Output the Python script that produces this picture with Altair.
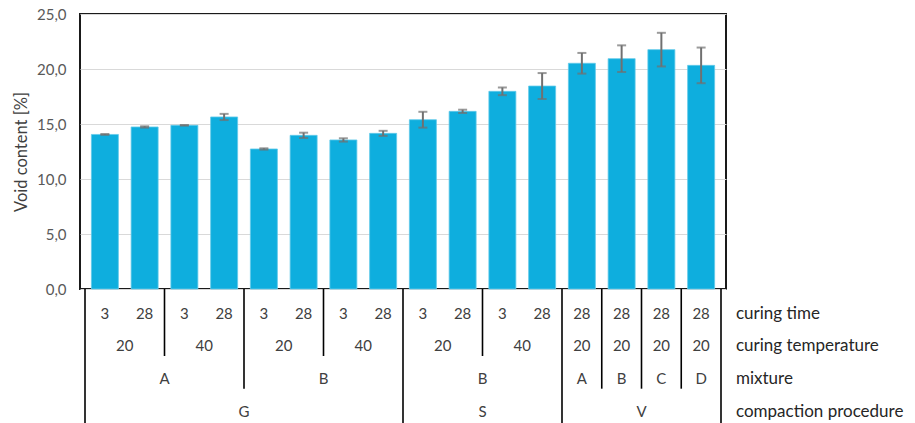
import altair as alt
import pandas as pd

# ---- data ----
curing_time = [3, 28, 3, 28, 3, 28, 3, 28, 3, 28, 3, 28, 28, 28, 28, 28]
curing_temperature = [20, 20, 40, 40, 20, 20, 40, 40, 20, 20, 40, 40, 20, 20, 20, 20]
mixture = ["A", "A", "A", "A", "B", "B", "B", "B", "B", "B", "B", "B", "A", "B", "C", "D"]
compaction = ["G"] * 8 + ["S"] * 4 + ["V"] * 4
void_content = [14.05, 14.73, 14.88, 15.64, 12.73, 13.97, 13.55, 14.15,
                15.39, 16.15, 17.97, 18.45, 20.52, 20.94, 21.76, 20.33]
void_sd = [0.04, 0.06, 0.03, 0.28, 0.06, 0.24, 0.15, 0.23,
           0.72, 0.15, 0.35, 1.18, 0.94, 1.21, 1.53, 1.62]
row_titles = ["curing time", "curing temperature", "mixture", "compaction procedure"]
y_ticks = [0, 5, 10, 15, 20, 25]

W, H = 646, 275
FOOT = 134
FONT = "Lato"
n = len(void_content)

bars = pd.DataFrame({
    "pos": [i + 0.5 for i in range(n)],
    "value": void_content,
    "lo": [v - e for v, e in zip(void_content, void_sd)],
    "hi": [v + e for v, e in zip(void_content, void_sd)],
})

levels = [curing_time, curing_temperature, mixture, compaction]
nl = len(levels)

def key(i, k):
    return tuple(levels[j][i] for j in range(k, nl))

# group labels for each level
lab_rows = []
for k in range(nl):
    start = 0
    for i in range(1, n + 1):
        if i == n or key(i, k) != key(start, k):
            lab_rows.append({"x": (start + i) / 2, "row": k, "label": str(levels[k][start])})
            start = i
labels = pd.DataFrame(lab_rows)

# separators: depth given by highest level that changes
Y_TOP, Y_BOT = -0.75, 3.35
sep_rows = [{"x": 0, "y0": Y_TOP, "y1": Y_BOT}, {"x": n, "y0": Y_TOP, "y1": Y_BOT}]
for b in range(1, n):
    d = max([j for j in range(nl) if levels[j][b - 1] != levels[j][b]] or [0])
    if d == 0:
        continue
    end = Y_BOT if d == nl - 1 else d + 0.3
    sep_rows.append({"x": b, "y0": Y_TOP, "y1": end})
seps = pd.DataFrame(sep_rows)

titles = pd.DataFrame({"row": list(range(nl)), "label": row_titles, "x": [n] * nl})

xscale = alt.Scale(domain=[0, n], nice=False, zero=False)
yscale = alt.Scale(domain=[0, 25], nice=False)
foot_scale = alt.Scale(domain=[Y_TOP, Y_BOT], range=[H, H + FOOT], nice=False, zero=False)

base = alt.Chart(bars)

bar_layer = base.mark_bar(width=27, color="#0EAEDE", stroke="#62c9ea", strokeWidth=0.8).encode(
    x=alt.X("pos:Q", scale=xscale, axis=None),
    y=alt.Y("value:Q", scale=yscale,
            axis=alt.Axis(values=y_ticks, title="Void content [%]",
                          labelExpr="replace(format(datum.value, '.1f'), '.', ',')",
                          ticks=False, domain=False, grid=True, gridColor="#d9d9d9",
                          gridWidth=1.2, labelPadding=14, titlePadding=7,
                          labelFont=FONT, labelFontSize=15, labelColor="#595959",
                          titleFont=FONT, titleFontSize=16.5, titleColor="#404040",
                          titleFontWeight="normal")),
)

err_rule = base.mark_rule(color="#707070", strokeWidth=2).encode(
    x="pos:Q", y="lo:Q", y2="hi:Q")
cap_lo = base.mark_tick(orient="horizontal", size=9, thickness=2, color="#707070").encode(
    x="pos:Q", y="lo:Q")
cap_hi = base.mark_tick(orient="horizontal", size=9, thickness=2, color="#707070").encode(
    x="pos:Q", y="hi:Q")

sep_layer = alt.Chart(seps).mark_rule(color="#000000", strokeWidth=1.6).encode(
    x=alt.X("x:Q", scale=xscale),
    y=alt.Y("y0:Q", scale=foot_scale, axis=None),
    y2="y1:Q",
)

lab_layer = alt.Chart(labels).mark_text(font=FONT, fontSize=15, color="#404040",
                                        baseline="middle", align="center").encode(
    x=alt.X("x:Q", scale=xscale),
    y=alt.Y("row:Q", scale=foot_scale, axis=None),
    text="label:N",
)

title_layer = alt.Chart(titles).mark_text(font=FONT, fontSize=17, color="#262626",
                                          baseline="middle", align="left", dx=15).encode(
    x=alt.X("x:Q", scale=xscale),
    y=alt.Y("row:Q", scale=foot_scale, axis=None),
    text="label:N",
)

bars_chart = alt.layer(bar_layer, err_rule, cap_lo, cap_hi)
foot_chart = alt.layer(sep_layer, lab_layer, title_layer)

chart = alt.layer(bars_chart, foot_chart).resolve_scale(y="independent").properties(
    width=W, height=H,
    autosize=alt.AutoSizeParams(type="none"),
    padding={"left": 80, "top": 14, "right": 915 - 80 - W, "bottom": 423 - 14 - H},
    background="white",
).configure_view(stroke="#1a1a1a", strokeWidth=2)

chart.save("out.html", embed_options={"renderer": "svg", "actions": False})
